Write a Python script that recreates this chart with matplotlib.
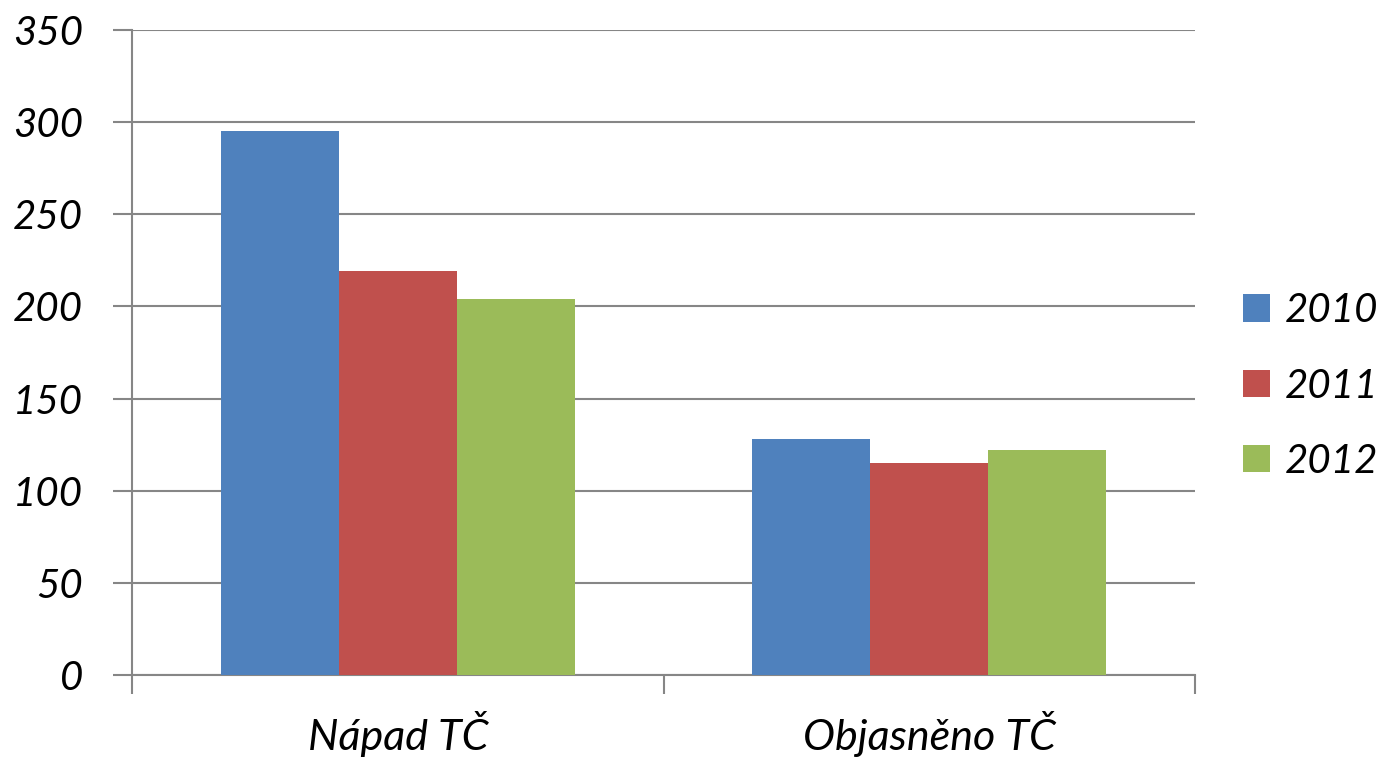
import matplotlib.pyplot as plt
import numpy as np

categories = ['Nápad TČ', 'Objasněno TČ']
years = ['2010', '2011', '2012']
values_2010 = [295, 128]
values_2011 = [219, 115]
values_2012 = [204, 122]
colors = ['#4F81BD', '#C0504D', '#9BBB59']

plt.rcParams['font.family'] = ['Lato', 'DejaVu Sans']
plt.rcParams['font.style'] = 'italic'

fig = plt.figure(figsize=(13.84, 7.6), dpi=100)
ax = fig.add_axes([132/1384, 85/760, (1195-132)/1384, (675-30)/760])

xx = np.arange(len(categories))
width = 1/4.5
series = [values_2010, values_2011, values_2012]
for i, vals in enumerate(series):
	ax.bar(xx + (i-1)*width, vals, width, color=colors[i], label=years[i], zorder=3)

ax.set_xlim(-0.5, len(categories)-0.5)
ax.set_ylim(0, 350)
ax.set_yticks(np.arange(0, 351, 50))
ax.yaxis.grid(True, color='#868686', linewidth=1.5, zorder=0)

gray = '#868686'
for s in ['top', 'right']:
	ax.spines[s].set_visible(False)
for s in ['left', 'bottom']:
	ax.spines[s].set_color(gray)
	ax.spines[s].set_linewidth(1.5)

ax.tick_params(axis='y', direction='out', length=14, width=1.5, color=gray, labelsize=29, pad=21)
ax.set_xticks(np.arange(-0.5, len(categories), 1.0))
ax.set_xticklabels([])
ax.tick_params(axis='x', which='major', direction='out', length=14, width=1.5, color=gray)
ax.set_xticks(xx, minor=True)
ax.set_xticklabels(categories, minor=True)
ax.tick_params(axis='x', which='minor', length=0, labelsize=31, pad=26)

fig.legend(loc='center left', bbox_to_anchor=(1243/1384, 1 - 386/760), frameon=False,
	fontsize=29, handlelength=0.68, handleheight=0.68, handletextpad=0.35, labelspacing=0.95,
	borderpad=0, borderaxespad=0)

fig.savefig('out.png', dpi=100)
